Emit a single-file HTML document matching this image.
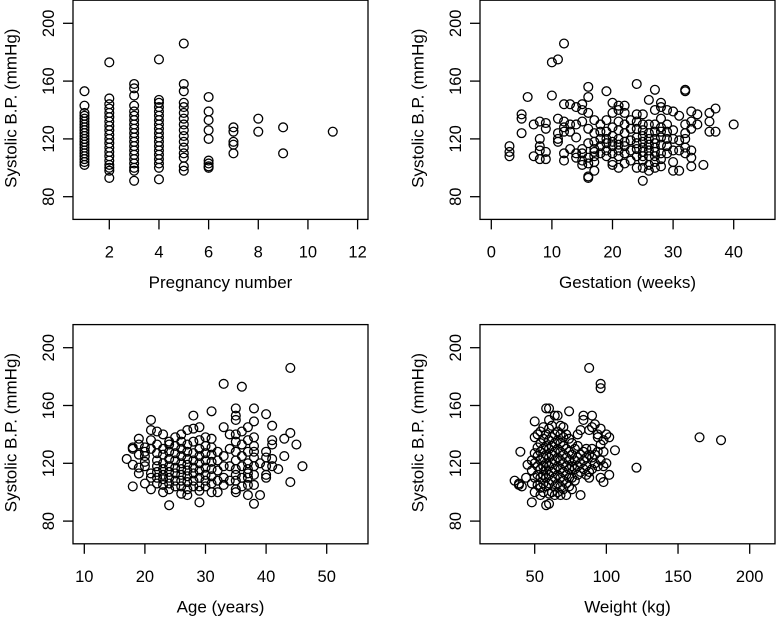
<!DOCTYPE html>
<html><head><meta charset="utf-8"><style>
html,body{margin:0;padding:0;background:#fff}
svg{display:block;font-family:"Liberation Sans",Arial,sans-serif}
</style></head><body>
<svg id="chart" width="776" height="624" viewBox="0 0 776 624"></svg>
<script>
const pregnancyGroups=[[1,[102,104,106,108,110,112,114,116,118,120,122,124,126,128,130,132,134,136,138,143,153]],[2,[93,98,100,102,105,108,111,114,117,120,123,126,129,132,135,138,141,144,148,173]],[3,[91,98,100,103,106,109,112,115,118,121,124,127,130,133,136,139,143,150,155,158]],[4,[92,100,103,106,109,112,115,118,121,124,127,130,133,136,139,142,145,147,175]],[5,[98,101,107,110,114,118,122,126,130,134,138,142,145,153,158,186]],[6,[100,101,103,105,120,126,133,139,149]],[7,[110,116,118,125,128]],[8,[125,134]],[9,[110,128]],[11,[125]]];
const gestationGroups=[[3,[108,111,115]],[5,[124,134,137]],[6,[149]],[7,[108,130]],[8,[106,112,115,120,132]],[9,[106,111,127,131]],[10,[150,173]],[11,[118,120,124,134,175]],[12,[105,110,125,128,132,144,186]],[13,[113,125,130,144]],[14,[107,110,121,130,142]],[15,[102,105,110,113,132,140,144]],[16,[93,94,103,107,117,127,138,149,156]],[17,[98,104,108,111,113,118,124,133]],[18,[110,115,120,125,130]],[19,[108,112,117,120,125,133,153]],[20,[102,104,110,115,118,122,128,138,145]],[21,[100,108,112,116,120,126,132,140,143]],[22,[103,110,115,118,124,130,138,143]],[23,[105,112,119,127,133]],[24,[100,108,113,117,121,127,132,137,158]],[25,[91,100,105,108,111,114,118,122,126,130,137]],[26,[98,102,108,112,116,120,124,130,147]],[27,[100,104,108,111,114,117,120,125,130,140,154]],[28,[101,106,110,116,121,125,128,134,142,145]],[29,[110,115,120,125,130,140]],[30,[98,104,112,120,126,139]],[31,[98,112,119,136]],[32,[110,114,120,124,130,153,154]],[33,[101,107,112,127,132,139]],[34,[130,137]],[35,[102]],[36,[125,132,138]],[37,[125,141]],[40,[130]]];
const ageGroups=[[17,[123]],[18,[104,119,130,131]],[19,[113,117,126,133,137]],[20,[106,118,121,125,128,131]],[21,[102,110,113,130,136,143,150]],[22,[106,110,114,118,122,127,133,142]],[23,[100,105,109,112,116,120,126,130,140]],[24,[91,102,106,110,114,118,123,128,133,135]],[25,[104,108,113,117,122,127,132,138]],[26,[99,104,108,112,116,120,125,130,135,140]],[27,[98,102,107,111,115,119,123,128,133,143]],[28,[104,108,113,117,122,127,135,144,153]],[29,[93,101,104,110,115,120,125,130,136,145]],[30,[104,108,112,117,122,127,132,138]],[31,[100,106,111,116,121,126,131,137,156]],[32,[100,108,115,122,128]],[33,[105,110,118,125,145,175]],[34,[108,118,130,140]],[35,[100,102,108,112,116,122,128,135,140,150,153,158]],[36,[104,110,118,125,133,142,173]],[37,[98,105,110,113,116,120,128,136,145]],[38,[92,105,112,118,124,128,132,138,149,158]],[39,[98,120]],[40,[110,112,118,124,128,154]],[41,[118,123,133,136,146]],[42,[116]],[43,[125,137]],[44,[107,141,186]],[45,[133]],[46,[118]]];
const weightGroups=[[36,[108]],[39,[105,106]],[40,[128]],[41,[104]],[44,[110]],[45,[119]],[48,[93,106,115,122]],[50,[100,110,120,127,138,149]],[52,[105,112,118,125,131,140]],[54,[98,103,110,116,122,128,134,142]],[56,[100,106,112,118,124,130,137,145]],[58,[91,104,110,115,120,126,132,140,158]],[60,[92,99,106,112,118,124,130,136,144,150,158]],[62,[100,108,114,120,126,132,138,146]],[64,[98,104,110,116,122,128,134,140,153]],[66,[100,106,112,118,124,130,136,142,153]],[68,[98,104,110,116,122,128,134,140,146]],[70,[102,108,114,120,126,132,138,145]],[72,[98,106,112,118,124,130,140]],[74,[104,110,116,122,128,137,156]],[76,[102,110,118,126,134]],[78,[108,116,122,130]],[80,[112,118,124,132,140]],[82,[98,114,120,126,143]],[84,[116,122,128,150,153]],[86,[112,118,124,130]],[88,[110,114,126,143,186]],[90,[116,124,130,145,153]],[92,[120,126,147]],[94,[118,128,138,140]],[96,[110,122,133,144,172,175]],[98,[107,118,128,136]],[100,[120,140]],[102,[112,138]],[106,[129]],[121,[117]],[165,[138]],[180,[136]]];
const yTicks=[80,120,160,200];
const pregTicks=[2,4,6,8,10,12];
const gestTicks=[0,10,20,30,40];
const ageTicks=[10,20,30,40,50];
const weightTicks=[50,100,150,200];

const NS='http://www.w3.org/2000/svg';
const svg=document.getElementById('chart');
function mk(tag,attrs,parent){const e=document.createElementNS(NS,tag);for(const k in attrs)e.setAttribute(k,attrs[k]);(parent||svg).appendChild(e);return e;}

const panels=[
 {name:'pregnancy',groups:pregnancyGroups,ticks:pregTicks,title:'Pregnancy number',left:73,right:368,top:0.2,x0:2,px0:109.3,scale:24.83},
 {name:'gestation',groups:gestationGroups,ticks:gestTicks,title:'Gestation (weeks)',left:480,right:775,top:0.2,x0:0,px0:491.3,scale:6.06},
 {name:'age',groups:ageGroups,ticks:ageTicks,title:'Age (years)',left:73,right:368,top:324.6,x0:10,px0:84.3,scale:6.06},
 {name:'weight',groups:weightGroups,ticks:weightTicks,title:'Weight (kg)',left:480,right:775,top:324.6,x0:50,px0:534.7,scale:1.4333}
];
panels.forEach(p=>{
 const g=mk('g',{});
 
 
 const bottom=p.top+219.2;
 const yv=v=>p.top+23.1+(200-v)*1.445;
 const xv=v=>p.px0+(v-p.x0)*p.scale;
 const fr=mk('rect',{x:p.left,y:p.top,width:p.right-p.left,height:bottom-p.top,fill:'none',stroke:'#000','stroke-width':1.3},g);
 
 
 yTicks.forEach(t=>{
  const y=yv(t);
  mk('line',{x1:p.left-10,x2:p.left,y1:y,y2:y,stroke:'#000','stroke-width':1.3},g);
  const tx=mk('text',{x:0,y:0,transform:`translate(${p.left-24},${y}) rotate(-90)`,'text-anchor':'middle','font-size':16.5,'dominant-baseline':'central'},g);
  tx.textContent=t;
  
  
 });
 p.ticks.forEach(t=>{
  const x=xv(t);
  mk('line',{x1:x,x2:x,y1:bottom,y2:bottom+10,stroke:'#000','stroke-width':1.3},g);
  const tx=mk('text',{x:x,y:bottom+33,'text-anchor':'middle','font-size':16.5,'dominant-baseline':'central'},g);
  tx.textContent=t;
  
  
 });
 const xt=mk('text',{x:(p.left+p.right)/2,y:bottom+63,'text-anchor':'middle','font-size':17,'dominant-baseline':'central'},g);
 xt.textContent=p.title;
 
 
 const yt=mk('text',{x:0,y:0,transform:`translate(${p.left-62},${p.top+108}) rotate(-90)`,'text-anchor':'middle','font-size':17,'dominant-baseline':'central'},g);
 yt.textContent='Systolic B.P. (mmHg)';
 
 
 p.groups.forEach(([xval,ys])=>{
  ys.forEach(v=>{
   const c=mk('circle',{cx:xv(xval),cy:yv(v),r:4.4,fill:'none',stroke:'#000','stroke-width':1.3},g);
   
   
  });
 });
});
</script>
</body></html>
